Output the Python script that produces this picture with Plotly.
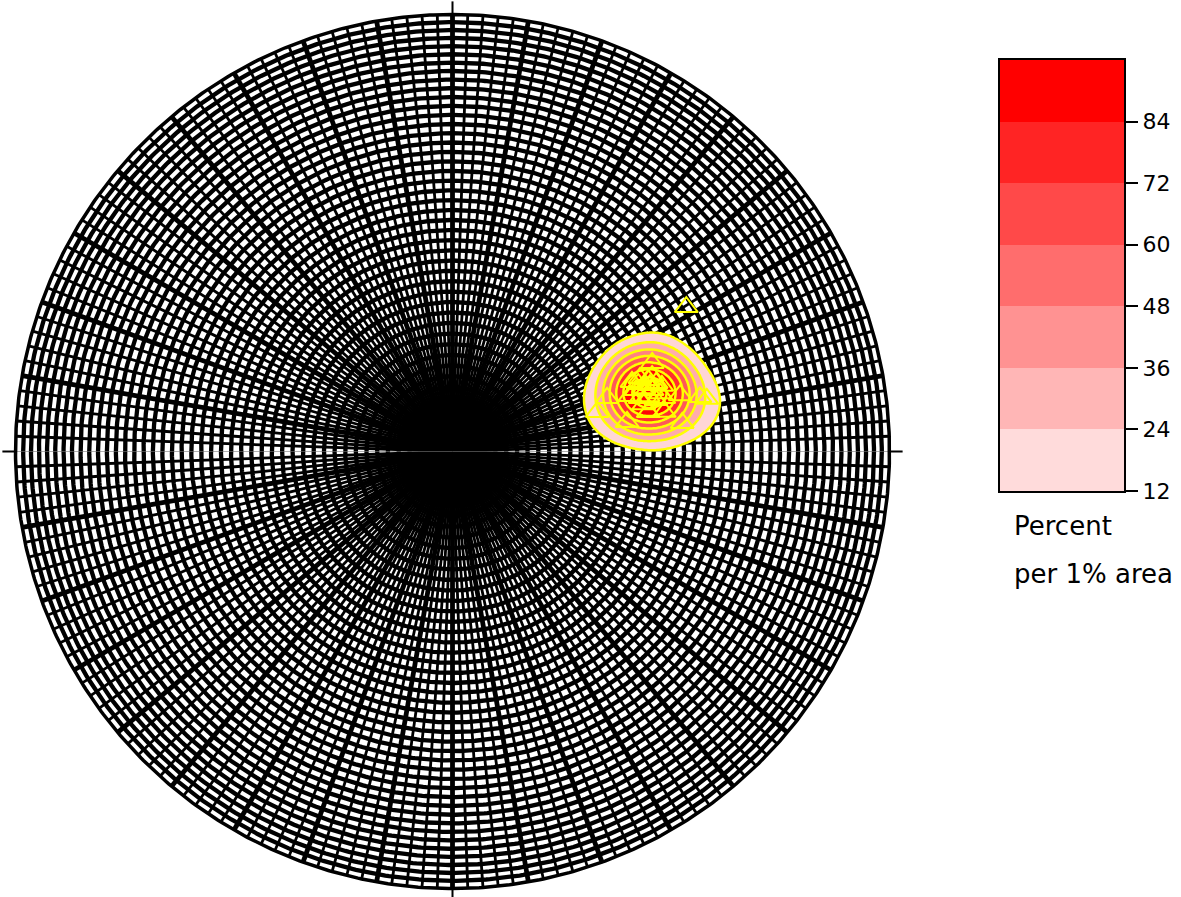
import numpy as np
import plotly.graph_objects as go

# ---------------- data (lower-hemisphere poles) ----------------
trend = [68.8, 68.6, 69.9, 71.4, 72.6, 71.5, 71.7, 72.9, 74.3, 72.6, 74.1, 74.2, 75.8, 76.1,
         69.3, 75.8, 70.0, 71.4,
         58.3, 66.1, 70.9, 74.7, 80.4, 78.6, 76.1, 82.9, 77.6, 78.3, 79.4]
plunge = [53.7, 52.0, 50.6, 49.3, 48.4, 53.5, 51.9, 50.5, 49.2, 55.0, 53.2, 51.6, 50.3, 52.8,
          49.6, 48.7, 52.7, 50.6,
          37.2, 48.6, 59.3, 61.9, 56.7, 52.3, 45.4, 46.0, 41.6, 40.3, 49.2]

levels = [12, 24, 36, 48, 60, 72, 84, 96]
band_colors = ['#FFDBDB', '#FFB6B6', '#FF9292', '#FF6D6D', '#FF4949', '#FF2424', '#FF0000']
cbar_ticks = [12, 24, 36, 48, 60, 72, 84]
cbar_title = ["Percent", "per 1% area"]
net_step = 2          # degrees between net lines
major_step = 10       # degrees between heavy radial lines

W, HREF = 1181, 897   # reference layout frame
HFIG = 910            # rendered height (the capture is fitted back to 897)
CX, CY, R = 452.5, 451.5, 437.0


def project(tr_deg, pl_deg):
    tr = np.radians(np.asarray(tr_deg, float))
    th = np.radians(90.0 - np.asarray(pl_deg, float))
    r = np.sqrt(2.0) * np.sin(th / 2.0)
    return r * np.sin(tr), r * np.cos(tr)


fig = go.Figure()

# ---------------- equal-area polar net ----------------
phi = np.radians(np.linspace(0, 360, 721))
rx, ry = [], []
for dip in range(net_step, 90, net_step):
    r = np.sqrt(2.0) * np.sin(np.radians(dip) / 2.0)
    rx += list(r * np.sin(phi)) + [None]
    ry += list(r * np.cos(phi)) + [None]
fig.add_trace(go.Scatter(x=rx, y=ry, mode='lines', line=dict(color='black', width=4.3),
                         hoverinfo='skip', showlegend=False))

thin_x, thin_y, thick_x, thick_y, faint_x, faint_y = [], [], [], [], [], []
for az in range(0, 360, net_step):
    a = np.radians(az)
    seg_x = [0.0, np.sin(a), None]
    seg_y = [0.0, np.cos(a), None]
    if az in (90, 270):
        faint_x += seg_x; faint_y += seg_y
    elif az % major_step == 0:
        thick_x += seg_x; thick_y += seg_y
    else:
        thin_x += seg_x; thin_y += seg_y
fig.add_trace(go.Scatter(x=thin_x, y=thin_y, mode='lines', line=dict(color='black', width=2.8),
                         hoverinfo='skip', showlegend=False))
fig.add_trace(go.Scatter(x=thick_x, y=thick_y, mode='lines', line=dict(color='black', width=4.8),
                         hoverinfo='skip', showlegend=False))
fig.add_trace(go.Scatter(x=faint_x, y=faint_y, mode='lines', line=dict(color='#777777', width=0.6),
                         hoverinfo='skip', showlegend=False))

# outer circle
fig.add_trace(go.Scatter(x=list(np.sin(phi)), y=list(np.cos(phi)), mode='lines',
                         line=dict(color='black', width=3.5), hoverinfo='skip', showlegend=False))
# cardinal ticks
tk_x, tk_y = [], []
for az in (0, 90, 180, 270):
    a = np.radians(az)
    tk_x += [np.sin(a) * 1.0, np.sin(a) * 1.03, None]
    tk_y += [np.cos(a) * 1.0, np.cos(a) * 1.03, None]
fig.add_trace(go.Scatter(x=tk_x, y=tk_y, mode='lines', line=dict(color='black', width=2),
                         hoverinfo='skip', showlegend=False))

# ---------------- density (percent per 1% area, smoothed counting) ----------------
xs, ys = project(trend, plunge)
N = len(xs)
gx = np.linspace(0.0, 1.0, 251)
gy = np.linspace(-0.45, 0.65, 276)
X, Y = np.meshgrid(gx, gy)
h = 0.152
d2 = (X[..., None] - xs) ** 2 + (Y[..., None] - ys) ** 2
u2 = d2 / h ** 2
K = np.where(u2 < 1, (1 - u2) ** 2, 0.0) * 3 * 0.01 / h ** 2
dens = 100.0 * K.sum(-1) / N

cs = [[0.0, 'rgba(255,255,255,0)']]
for k, c in enumerate(band_colors, start=1):
    cs.append([k / 8.0, c])
cs.append([1.0, band_colors[-1]])

# drawn on an overlaying subplot so it sits above the net
fig.add_trace(go.Contour(x=gx, y=gy, z=dens, colorscale=cs, showscale=False,
                         contours=dict(start=levels[0], end=levels[-2], size=levels[1] - levels[0],
                                       coloring='fill'),
                         line=dict(color='#FFFF00', width=2.5, smoothing=1),
                         xaxis='x3', yaxis='y3', hoverinfo='skip'))

# data points
fig.add_trace(go.Scatter(x=xs, y=ys, mode='markers', xaxis='x3', yaxis='y3',
                         marker=dict(symbol='triangle-up-open', size=20, color='#FFFF00',
                                     line=dict(color='#FFFF00', width=2)),
                         showlegend=False, hoverinfo='skip'))

# ---------------- colour key ----------------
fig.add_trace(go.Bar(x=[0.5] * len(band_colors), y=[levels[i + 1] - levels[i] for i in range(len(band_colors))],
                     base=levels[:-1], width=1.0, marker=dict(color=band_colors, line=dict(width=0)),
                     xaxis='x2', yaxis='y2', showlegend=False, hoverinfo='skip'))

fnt = "DejaVu Sans"
xr = [(0 - CX) / R, (906 - CX) / R]
yr = [(CY - HREF) / R, CY / R]
fig.update_layout(
    width=W, height=HFIG, margin=dict(l=0, r=0, t=0, b=0),
    paper_bgcolor='white', plot_bgcolor='rgba(0,0,0,0)',
    font=dict(family=fnt, color='black'),
    xaxis=dict(domain=[0, 906 / W], range=xr, visible=False, showgrid=False, zeroline=False),
    yaxis=dict(domain=[0, 1], range=yr, visible=False, showgrid=False, zeroline=False),
    xaxis3=dict(domain=[0, 906 / W], range=xr, visible=False, showgrid=False, zeroline=False,
                overlaying='x', anchor='y3'),
    yaxis3=dict(domain=[0, 1], range=yr, visible=False, showgrid=False, zeroline=False,
                overlaying='y', anchor='x3'),
    xaxis2=dict(domain=[1000 / W, 1124 / W], range=[0, 1], showticklabels=False, ticks='',
                showgrid=False, zeroline=False, showline=True, mirror=True, linecolor='black',
                linewidth=2, anchor='y2'),
    yaxis2=dict(domain=[1 - 491 / HREF, 1 - 60 / HREF], range=[levels[0], levels[-1]], side='right',
                tickvals=cbar_ticks, ticks='outside', ticklen=12, tickwidth=2, tickcolor='black',
                tickfont=dict(family=fnt, size=22, color='black'),
                showgrid=False, zeroline=False, showline=True, mirror=True, linecolor='black',
                linewidth=2, anchor='x2'),
    bargap=0,
    annotations=[
        dict(text=cbar_title[0], x=1012 / W, y=1 - 526 / HREF, xref='paper', yref='paper',
             xanchor='left', yanchor='middle', showarrow=False, font=dict(family=fnt, size=26)),
        dict(text=cbar_title[1], x=1012 / W, y=1 - 574 / HREF, xref='paper', yref='paper',
             xanchor='left', yanchor='middle', showarrow=False, font=dict(family=fnt, size=26)),
    ],
)

post = ("document.documentElement.style.margin='0';document.body.style.margin='0';"
        "document.body.style.overflow='hidden';")
fig.write_html("out.html", config={'displayModeBar': False}, post_script=post)
